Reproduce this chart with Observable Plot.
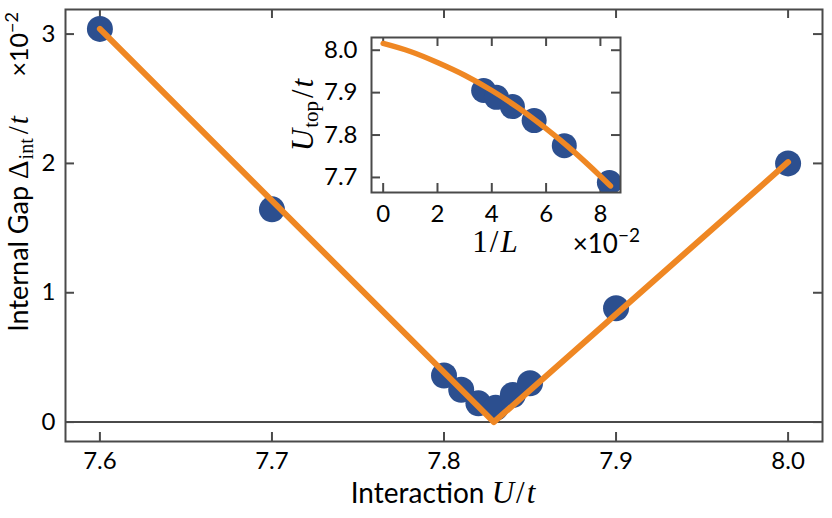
<!DOCTYPE html>
<html><head><meta charset="utf-8">
<script src="https://cdn.jsdelivr.net/npm/d3@7"></script>
<script src="https://cdn.jsdelivr.net/npm/@observablehq/plot@0.6"></script>
<style>
body{margin:0;background:#fff;}
#wrap{position:relative;width:832px;height:518px;overflow:hidden;background:#fff;}
#inset{position:absolute;left:280px;top:25px;}
</style></head><body>
<div id="wrap"><div id="main"></div><div id="inset"></div></div>
<script>
// ---- main panel data ----
const interactionU = [7.6, 7.7, 7.8, 7.81, 7.82, 7.83, 7.84, 7.85, 7.9, 8.0];
const gapValues   = [3.04, 1.645, 0.36, 0.25, 0.145, 0.11, 0.21, 0.30, 0.88, 2.00];
const fitU   = [7.6, 7.829, 8.0];
const fitGap = [3.04, 0.0, 2.01];
const xTicks = [7.6, 7.7, 7.8, 7.9, 8.0];
const yTicks = [0, 1, 2, 3];

// ---- inset data ----
const inverseL = [3.70, 4.17, 4.76, 5.56, 6.67, 8.33];
const uTop     = [7.905, 7.889, 7.867, 7.834, 7.775, 7.688];
const fitInvL  = [0, 1, 2, 3, 4, 5, 6, 7, 8, 8.37];
const fitUTop  = [8.016, 7.997, 7.971, 7.941, 7.905, 7.863, 7.815, 7.762, 7.703, 7.680];
const insetXTicks = [0, 2, 4, 6, 8];
const insetYTicks = [7.7, 7.8, 7.9, 8.0];

const ink = "#4a4a4a", blue = "#2c4f8f", orange = "#ef8723";
const sans = "Lato, 'Noto Sans', sans-serif";
const serif = "'Liberation Serif', 'DejaVu Serif', serif";
const TICK = 9;

// inward tick marks on all four sides, as rules in data space
function innerTicks(xDom, yDom, xt, yt, pw, ph) {
  const dx = TICK * (xDom[1] - xDom[0]) / pw, dy = TICK * (yDom[1] - yDom[0]) / ph;
  const st = {stroke: ink, strokeWidth: 2, strokeOpacity: 1};
  return [
    Plot.ruleX(xt, {x: d => d, y1: yDom[0], y2: yDom[0] + dy, ...st}),
    Plot.ruleX(xt, {x: d => d, y1: yDom[1], y2: yDom[1] - dy, ...st}),
    Plot.ruleY(yt, {y: d => d, x1: xDom[0], x2: xDom[0] + dx, ...st}),
    Plot.ruleY(yt, {y: d => d, x1: xDom[1], x2: xDom[1] - dx, ...st})
  ];
}

// ---------- main ----------
const W = 832, H = 518, mL = 65, mR = 10, mT = 9, mB = 77;
const plotW = W - mL - mR, plotH = H - mT - mB;
const xDom = [7.58, 8.02], yDom = [-0.15, 3.19];
const mainPts = interactionU.map((u, i) => ({u, g: gapValues[i]}));
const mainFit = fitU.map((u, i) => ({u, g: fitGap[i]}));

const main = Plot.plot({
  width: W, height: H, marginLeft: mL, marginRight: mR, marginTop: mT, marginBottom: mB,
  style: {fontFamily: sans, fontSize: "24px", color: "#000", background: "transparent", overflow: "visible"},
  x: {domain: xDom, ticks: xTicks, tickSize: 0, tickPadding: 10, tickFormat: d3.format(".1f"), label: null},
  y: {domain: yDom, ticks: yTicks, tickSize: 0, tickPadding: 10, tickFormat: d3.format("d"), label: null},
  marks: [
    Plot.ruleY([0], {stroke: ink, strokeWidth: 2}),
    ...innerTicks(xDom, yDom, xTicks, yTicks, plotW, plotH),
    Plot.dot(mainPts, {x: "u", y: "g", r: 13, fill: blue}),
    Plot.line(mainFit, {x: "u", y: "g", stroke: orange, strokeWidth: 6}),
    Plot.frame({stroke: ink, strokeWidth: 2})
  ]
});
document.getElementById("main").appendChild(main);

const ms = d3.select(main);
const lab = ms.append("g").attr("fill", "#000").attr("font-size", 27).attr("font-family", sans);
// x label
const xl = lab.append("text").attr("x", 443).attr("y", 503).attr("text-anchor", "middle").attr("font-size", 28);
xl.append("tspan").text("Interaction ");
xl.append("tspan").attr("font-family", serif).attr("font-style", "italic").attr("font-size", 31).text("U");
xl.append("tspan").attr("font-family", serif).attr("font-size", 31).attr("dx", 2).text("/");
xl.append("tspan").attr("font-family", serif).attr("font-style", "italic").attr("font-size", 31).attr("dx", 2).text("t");
// y label
const yl = lab.append("text").attr("transform", "translate(28,224) rotate(-90)").attr("text-anchor", "middle");
yl.append("tspan").text("Internal Gap ");
yl.append("tspan").attr("font-family", serif).attr("font-size", 29).text("Δ");
yl.append("tspan").attr("font-family", serif).attr("font-size", 20).attr("dy", 5).attr("dx", 1).text("int");
yl.append("tspan").attr("font-family", serif).attr("font-size", 29).attr("dy", -5).attr("dx", 4).text("/");
yl.append("tspan").attr("font-family", serif).attr("font-style", "italic").attr("font-size", 29).attr("dx", 2).text("t");
// offset text
const yo = lab.append("text").attr("transform", "translate(28,12) rotate(-90)").attr("text-anchor", "end").attr("font-size", 25);
yo.append("tspan").text("×10");
yo.append("tspan").attr("font-size", 18).attr("dy", -10).text("−2");

// ---------- inset ----------
const IW = 370, IH = 235, imL = 91, imR = 30, imT = 12, imB = 68;
const iPlotW = IW - imL - imR, iPlotH = IH - imT - imB;
const ixDom = [-0.43, 8.74], iyDom = [7.6645, 8.03];
const insetPts = inverseL.map((x, i) => ({x, u: uTop[i]}));
const insetFit = fitInvL.map((x, i) => ({x, u: fitUTop[i]}));

const inset = Plot.plot({
  width: IW, height: IH, marginLeft: imL, marginRight: imR, marginTop: imT, marginBottom: imB,
  style: {fontFamily: sans, fontSize: "24px", color: "#000", background: "transparent", overflow: "visible"},
  x: {domain: ixDom, ticks: insetXTicks, tickSize: 0, tickPadding: 12, tickFormat: d3.format("d"), label: null},
  y: {domain: iyDom, ticks: insetYTicks, tickSize: 0, tickPadding: 14, tickFormat: d3.format(".1f"), label: null},
  marks: [
    ...innerTicks(ixDom, iyDom, insetXTicks, insetYTicks, iPlotW, iPlotH),
    Plot.dot(insetPts, {x: "x", y: "u", r: 12.5, fill: blue, clip: true}),
    Plot.line(insetFit, {x: "x", y: "u", curve: "natural", stroke: orange, strokeWidth: 5.5, clip: true}),
    Plot.frame({stroke: ink, strokeWidth: 2})
  ]
});
document.getElementById("inset").appendChild(inset);

const is = d3.select(inset);
const ilab = is.append("g").attr("fill", "#000").attr("font-size", 28).attr("font-family", sans);
const il = ilab.append("text").attr("transform", "translate(33,90) rotate(-90)").attr("text-anchor", "middle");
il.append("tspan").attr("font-family", serif).attr("font-style", "italic").attr("font-size", 31).text("U");
il.append("tspan").attr("font-family", serif).attr("font-size", 21).attr("dy", 5).attr("dx", 1).text("top");
il.append("tspan").attr("font-family", serif).attr("font-size", 31).attr("dy", -5).attr("dx", 3).text("/");
il.append("tspan").attr("font-family", serif).attr("font-style", "italic").attr("font-size", 31).attr("dx", 2).text("t");
const ixl = ilab.append("text").attr("x", 215).attr("y", 227).attr("text-anchor", "middle");
ixl.append("tspan").attr("font-family", serif).attr("font-size", 31).text("1");
ixl.append("tspan").attr("font-family", serif).attr("font-size", 31).attr("dx", 2).text("/");
ixl.append("tspan").attr("font-family", serif).attr("font-style", "italic").attr("font-size", 31).attr("dx", 2).text("L");
const io = ilab.append("text").attr("x", 360).attr("y", 228).attr("text-anchor", "end").attr("font-size", 26);
io.append("tspan").text("×10");
io.append("tspan").attr("font-size", 19).attr("dy", -11).text("−2");
</script>
</body></html>
